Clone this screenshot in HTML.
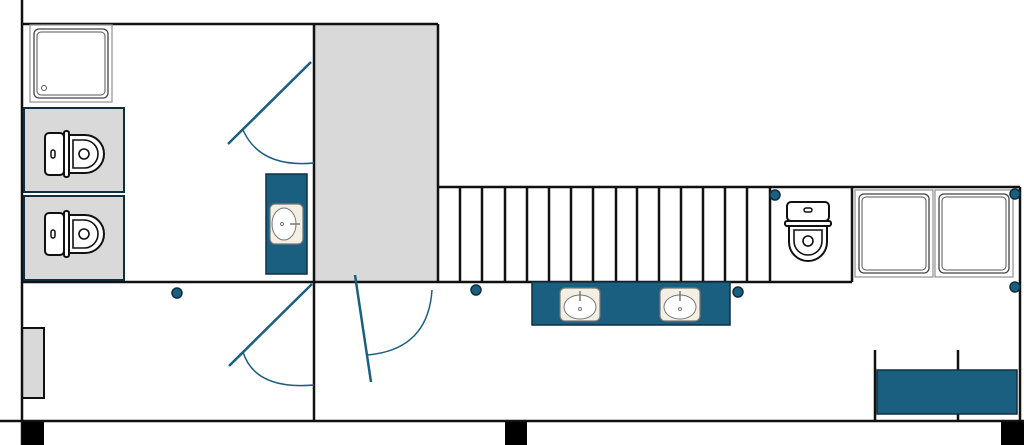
<!DOCTYPE html>
<html><head><meta charset="utf-8"><style>html,body{margin:0;padding:0;background:#fff}svg{display:block}</style></head>
<body>
<svg width="1024" height="445" viewBox="0 0 1024 445" xmlns="http://www.w3.org/2000/svg">
<defs>
<g id="toiletL">
  <rect x="-32" y="-21" width="19" height="42" rx="4" fill="#fff" stroke="#111" stroke-width="2"/>
  <rect x="-13" y="-23" width="5" height="46" rx="2" fill="#fff" stroke="#111" stroke-width="2"/>
  <path d="M-8,-19 L8,-19 A19,19 0 0 1 8,19 L-8,19 Z" fill="#fff" stroke="#111" stroke-width="2"/>
  <path d="M-4,-14 L7,-14 A14,14 0 0 1 7,14 L-4,14 Z" fill="none" stroke="#111" stroke-width="1.6"/>
  <circle cx="7" cy="0" r="5" fill="none" stroke="#111" stroke-width="1.6"/>
  <rect x="-26" y="-4" width="4" height="8" rx="2" fill="none" stroke="#111" stroke-width="1.5"/>
</g>
<g id="sink">
  <rect x="-20" y="-16" width="40" height="33" rx="5" fill="#f3efe2" stroke="#777" stroke-width="1.2"/>
  <ellipse cx="0" cy="3" rx="16" ry="12" fill="#fff" stroke="#777" stroke-width="1"/>
  <line x1="0" y1="-13" x2="0" y2="-3" stroke="#777" stroke-width="1.5"/>
  <circle cx="0" cy="5" r="1.5" fill="none" stroke="#777"/>
</g>
<g id="shower">
  <rect x="0" y="0" width="78" height="87" fill="#fff" stroke="#999" stroke-width="1.3"/>
  <rect x="4" y="4" width="70" height="79" rx="5" fill="none" stroke="#444" stroke-width="1.3"/>
  <rect x="7" y="7" width="64" height="73" rx="4" fill="none" stroke="#555" stroke-width="1"/>
</g>
</defs>

<rect x="314" y="24" width="124" height="258" fill="#d9d9d9"/>
<rect x="22" y="328" width="22" height="70" fill="#d9d9d9" stroke="#111" stroke-width="2"/>

<g stroke="#111" stroke-width="2.5" fill="none">
  <line x1="22" y1="0" x2="22" y2="445"/>
  <line x1="22" y1="24" x2="438" y2="24"/>
  <line x1="438" y1="24" x2="438" y2="282"/>
  <line x1="314" y1="24" x2="314" y2="421"/>
  <line x1="438" y1="187" x2="1020" y2="187"/>
  <line x1="1020" y1="187" x2="1020" y2="421"/>
  <line x1="22" y1="282" x2="852" y2="282"/>
  <line x1="852" y1="187" x2="852" y2="282"/>
  <line x1="0" y1="421" x2="1024" y2="421"/>
  <line x1="875" y1="350" x2="875" y2="421"/>
  <line x1="958" y1="350" x2="958" y2="421"/>
</g>
<g stroke="#111" stroke-width="2.5">
  <line x1="460" y1="187" x2="460" y2="282"/><line x1="482" y1="187" x2="482" y2="282"/>
  <line x1="505" y1="187" x2="505" y2="282"/><line x1="527" y1="187" x2="527" y2="282"/>
  <line x1="549" y1="187" x2="549" y2="282"/><line x1="571" y1="187" x2="571" y2="282"/>
  <line x1="593" y1="187" x2="593" y2="282"/><line x1="616" y1="187" x2="616" y2="282"/>
  <line x1="637" y1="187" x2="637" y2="282"/><line x1="659" y1="187" x2="659" y2="282"/>
  <line x1="681" y1="187" x2="681" y2="282"/><line x1="703" y1="187" x2="703" y2="282"/>
  <line x1="725" y1="187" x2="725" y2="282"/><line x1="747" y1="187" x2="747" y2="282"/>
  <line x1="770" y1="187" x2="770" y2="282"/>
</g>

<rect x="22" y="422" width="22" height="23" fill="#000"/>
<rect x="505" y="422" width="22" height="23" fill="#000"/>
<rect x="1001" y="422" width="23" height="23" fill="#000"/>

<!-- top-left shower -->
<rect x="30" y="25" width="82" height="77" fill="#fff" stroke="#999" stroke-width="1.3"/>
<rect x="34" y="29" width="74" height="69" rx="5" fill="none" stroke="#444" stroke-width="1.3"/>
<rect x="37" y="32" width="68" height="63" rx="4" fill="none" stroke="#555" stroke-width="1"/>
<circle cx="44" cy="88" r="2.5" fill="none" stroke="#555"/>
<use href="#shower" x="855" y="190"/>
<use href="#shower" x="935" y="190"/>

<rect x="24" y="108" width="100" height="84" fill="#d9d9d9" stroke="#0f2e40" stroke-width="2"/>
<rect x="24" y="196" width="100" height="84" fill="#d9d9d9" stroke="#0f2e40" stroke-width="2"/>
<g transform="translate(77,154)"><use href="#toiletL"/></g>
<g transform="translate(77,234)"><use href="#toiletL"/></g>
<g transform="translate(808,234) rotate(90)"><use href="#toiletL"/></g>

<rect x="266" y="174" width="41" height="100" fill="#1a5e80" stroke="#0f2e40" stroke-width="1.5"/>
<g transform="translate(287,224) rotate(90)"><use href="#sink"/></g>
<rect x="532" y="282" width="198" height="43" fill="#1a5e80" stroke="#0f2e40" stroke-width="1.5"/>
<use href="#sink" x="580" y="304"/>
<use href="#sink" x="680" y="304"/>
<rect x="877" y="370" width="140" height="44" fill="#1a5e80" stroke="#0f2e40" stroke-width="1.5"/>

<g stroke="#1a5e80" stroke-width="2.5" fill="none">
  <line x1="228" y1="144" x2="311" y2="62"/>
  <path d="M243,130 Q260,168 314,163" stroke-width="1.5"/>
  <line x1="229" y1="366" x2="312" y2="284"/>
  <path d="M243,352 Q255,390 314,385" stroke-width="1.5"/>
  <line x1="355" y1="275" x2="371" y2="382"/>
  <path d="M367,355 Q428,350 432,290" stroke-width="1.5"/>
</g>

<g fill="#1a5e80" stroke="#0f2e40" stroke-width="1.5">
  <circle cx="177" cy="293" r="5"/>
  <circle cx="476" cy="290" r="5"/>
  <circle cx="738" cy="292" r="5"/>
  <circle cx="775" cy="195" r="5"/>
  <circle cx="1015" cy="194" r="5"/>
  <circle cx="1015" cy="287" r="5"/>
</g>
</svg>
</body></html>
